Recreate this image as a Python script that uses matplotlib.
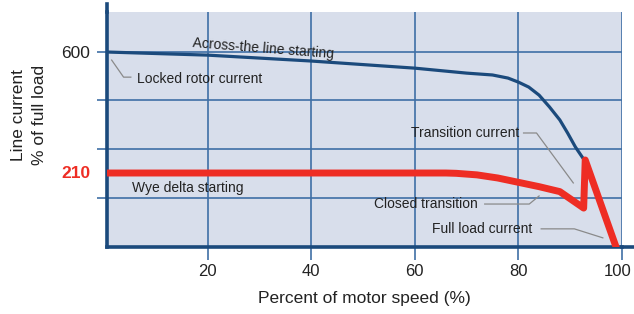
import matplotlib
matplotlib.use("Agg")
import matplotlib.pyplot as plt
from matplotlib.transforms import ScaledTranslation

plt.rcParams['font.family'] = ['Liberation Sans', 'DejaVu Sans']

# across-the-line starting curve (speed %, line current % of full load)
atl_speed = [0.6, 20, 40, 60, 70, 75, 78, 80, 82, 84, 86, 88, 89.5, 91, 92.7]
atl_current = [600, 590, 571, 548, 532, 526, 516, 503, 487, 461, 423, 381, 339, 294, 252]

# wye delta starting curve, with closed transition spike
wye_speed = [0.6, 66, 68, 72, 76, 80, 84, 88, 92.6, 92.9, 98.8]
wye_current = [210, 210, 209, 204, 194, 180, 166, 150, 97, 252, -26]

xticks = [20, 40, 60, 80, 100]
grid_levels = [130, 288, 446, 600]
ytick_labels = ['', '', '', '600']

navy = '#1b4a7c'
grid_c = '#3f6fa6'
red = '#ee2d24'
lead = '#8a8a8a'
txt = '#222222'

fig = plt.figure(figsize=(6.34, 3.14), dpi=100)
ax = fig.add_axes([107/634, 1-247/314, (622-107)/634, (247-12)/314])
ax.set_facecolor('#d8deeb')
ax.set_xlim(0.6, 99.6)
ax.set_ylim(-28.5, 729)

ax.set_xticks(xticks)
ax.set_yticks(grid_levels)
ax.set_yticklabels(ytick_labels)
ax.grid(True, color=grid_c, linewidth=1.2)
ax.set_axisbelow(True)
ax.tick_params(axis='x', length=9.5, width=1.2, color=grid_c, direction='out', pad=3,
               labelsize=12, labelcolor=txt)
ax.tick_params(axis='y', length=7, width=1.2, color=grid_c, direction='out', pad=5,
               labelsize=12.5, labelcolor=txt)
# nudge the last label so it stays inside the image
last = ax.get_xticklabels()[-1]
last.set_transform(last.get_transform() + ScaledTranslation(-4/100, 0, fig.dpi_scale_trans))

for s in ['top', 'right']:
    ax.spines[s].set_visible(False)
for s in ['left', 'bottom']:
    ax.spines[s].set_color(navy)
    ax.spines[s].set_linewidth(2.6)
# spine extensions beyond the plot area
ax.plot([0, 0], [1, 1.034], transform=ax.transAxes, color=navy, lw=2.6, clip_on=False)
ax.plot([1, 1.023], [0, 0], transform=ax.transAxes, color=navy, lw=2.6, clip_on=False)

ax.text(-0.033, 210, '210', color=red, fontsize=12.5, fontweight='bold',
        ha='right', va='center', transform=ax.get_yaxis_transform())

ax.plot(atl_speed, atl_current, color=navy, lw=2.3, solid_capstyle='round',
        solid_joinstyle='round', zorder=3)
ax.plot(wye_speed, wye_current, color=red, lw=5, solid_joinstyle='round', zorder=4)

# labels and leaders
ax.text(30.8, 610, 'Across-the line starting', fontsize=10, color=txt, rotation=-4.5,
        ha='center', va='center', rotation_mode='anchor', zorder=5)
ax.plot([1.5, 3.8, 5.2], [574, 519, 519], color=lead, lw=0.9)
ax.text(6.3, 513, 'Locked rotor current', fontsize=10, color=txt, ha='left', va='center')
ax.text(5.4, 162, 'Wye delta starting', fontsize=10, color=txt, ha='left', va='center')
ax.plot([81, 83.5, 90.6], [339, 339, 178], color=lead, lw=0.9)
ax.text(80.2, 339, 'Transition current', fontsize=10, color=txt, ha='right', va='center')
ax.plot([73.5, 82.1, 84], [110, 110, 136], color=lead, lw=0.9)
ax.text(72.2, 110, 'Closed transition', fontsize=10, color=txt, ha='right', va='center')
ax.plot([84.4, 90.8, 96.3], [30, 30, 1], color=lead, lw=0.9)
ax.text(82.6, 30, 'Full load current', fontsize=10, color=txt, ha='right', va='center')

fig.text(364/634, 1-298/314, 'Percent of motor speed (%)', fontsize=12.5, color=txt,
         ha='center', va='center')
fig.text(29/634, 1-115/314, 'Line current\n% of full load', fontsize=12.5, color=txt,
         ha='center', va='center', rotation=90, linespacing=1.55)

fig.savefig('out.png', dpi=100, facecolor='white')
